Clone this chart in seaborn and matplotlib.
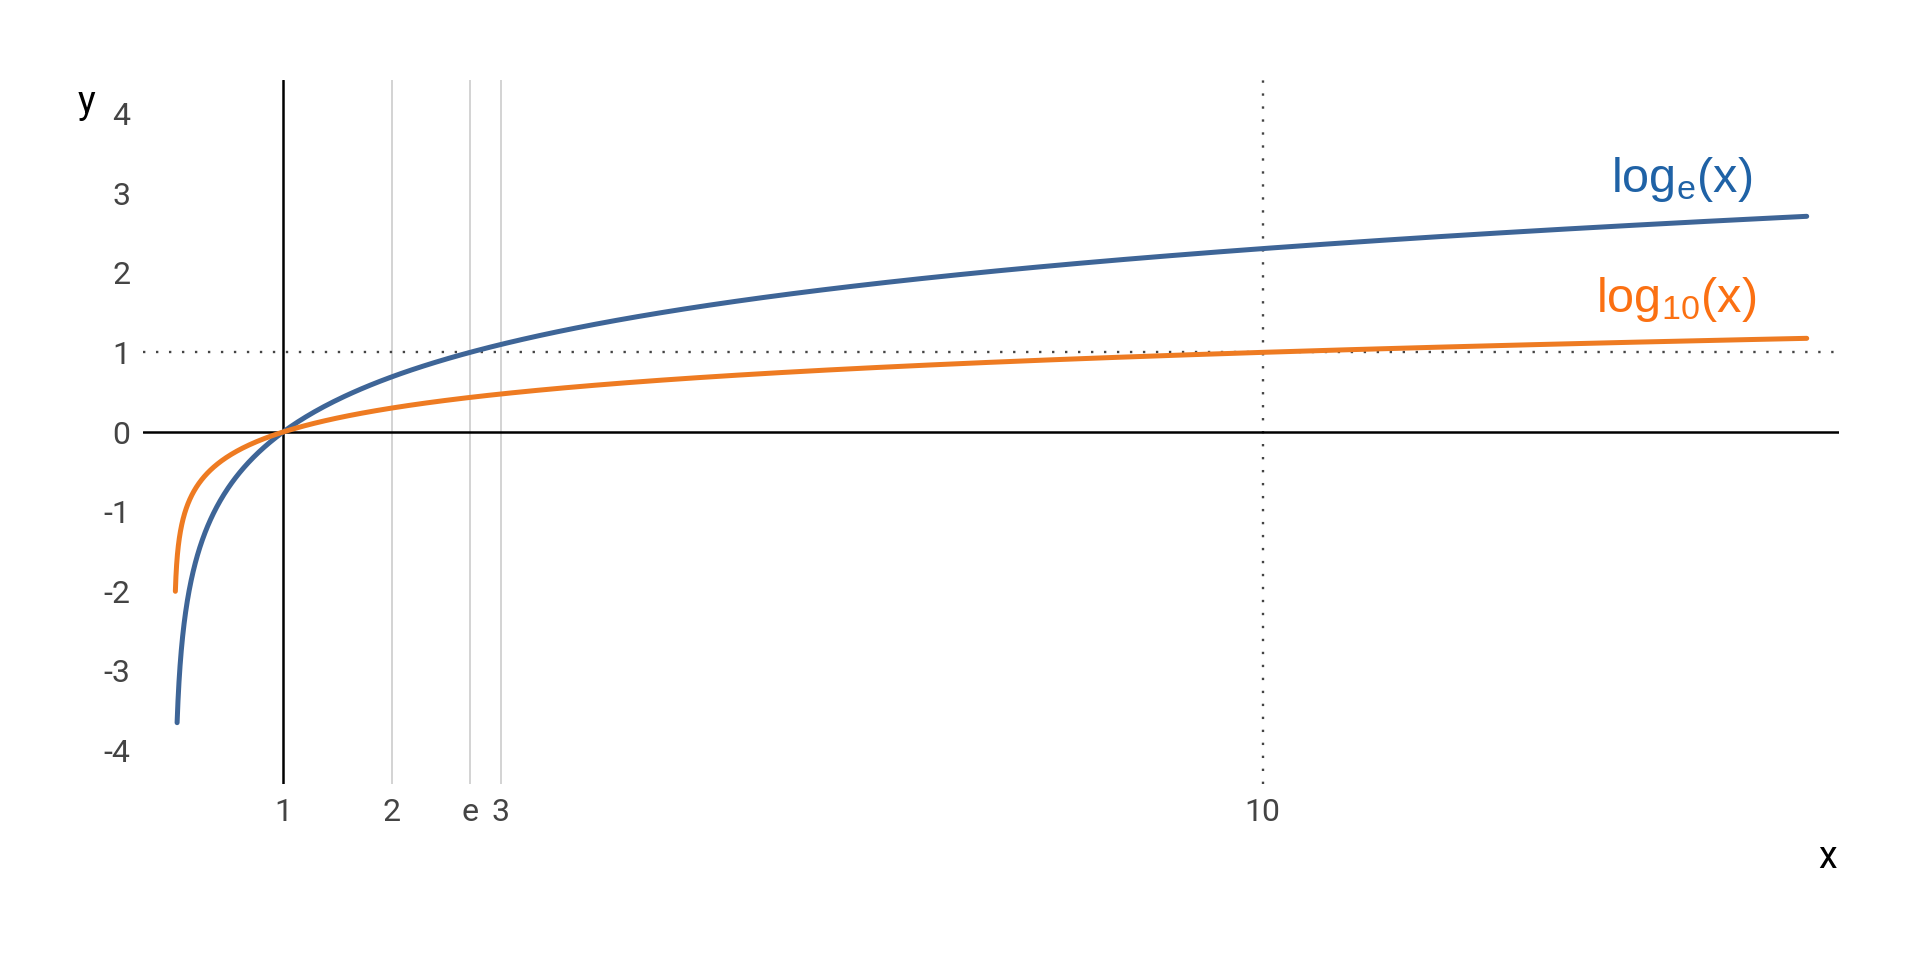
import numpy as np
import pandas as pd
import seaborn as sns
import matplotlib.pyplot as plt

sns.set_style("white")
plt.rcParams['font.family'] = ['Roboto', 'DejaVu Sans']
plt.rcParams['mathtext.default'] = 'regular'

# данные: кривые логарифмов (график функций)
x_ln = np.geomspace(0.026, 15, 400)
x_lg = np.geomspace(0.01, 15, 400)
y_ln = np.log(x_ln)
y_lg = np.log10(x_lg)

x_ticks = [1, 2, np.e, 3, 10]
x_tick_labels = ['1', '2', 'e', '3', '10']
y_ticks = [-4, -3, -2, -1, 0, 1, 2, 3, 4]

df = pd.concat([
    pd.DataFrame({'x': x_ln, 'y': y_ln, 'f': 'ln'}),
    pd.DataFrame({'x': x_lg, 'y': y_lg, 'f': 'lg'}),
])

fig = plt.figure(figsize=(19.2, 9.6), dpi=100)
ax = fig.add_axes([0.0745, 0.1833, 0.8835, 0.7334])

# вспомогательные линии
for xv in [2, np.e, 3]:
    ax.axvline(xv, color='#cccccc', lw=1.2, zorder=1)
ax.axvline(10, color='#444444', lw=1.7, ls=(0, (1, 4.5)), zorder=1)
ax.axhline(1, color='#444444', lw=1.7, ls=(0, (1, 4.5)), zorder=1)
ax.axvline(1, color='black', lw=1.8, zorder=2)
ax.axhline(0, color='black', lw=1.8, zorder=2)

sns.lineplot(data=df, x='x', y='y', hue='f', sort=False, estimator=None,
             palette={'ln': '#3e6597', 'lg': '#ee7b22'}, linewidth=3.6,
             legend=False, ax=ax, zorder=3)

ax.set_xlim(-0.287, 15.3)
ax.set_ylim(-4.42, 4.42)
ax.set_xticks(x_ticks)
ax.set_xticklabels(x_tick_labels)
ax.set_yticks(y_ticks)
ax.set_yticklabels([str(v) for v in y_ticks])
ax.tick_params(length=0, labelsize=23, labelcolor='#444444')
ax.tick_params(axis='x', pad=10)
ax.tick_params(axis='y', pad=9)
ax.set_xlabel('')
ax.set_ylabel('')
for s in ax.spines.values():
    s.set_visible(False)

fig.text(0.045, 0.893, 'y', fontsize=27, color='black', ha='center', va='center')
fig.text(0.952, 0.107, 'x', fontsize=27, color='black', ha='center', va='center')

ax.text(13.85, 3.17, r'log$_e$(x)', fontsize=35, color='#1f62a6', ha='center',
        va='center', family='Liberation Sans')
ax.text(13.8, 1.66, r'log$_{10}$(x)', fontsize=35, color='#fb7012', ha='center',
        va='center', family='Liberation Sans')

fig.savefig('out.png', dpi=100)
